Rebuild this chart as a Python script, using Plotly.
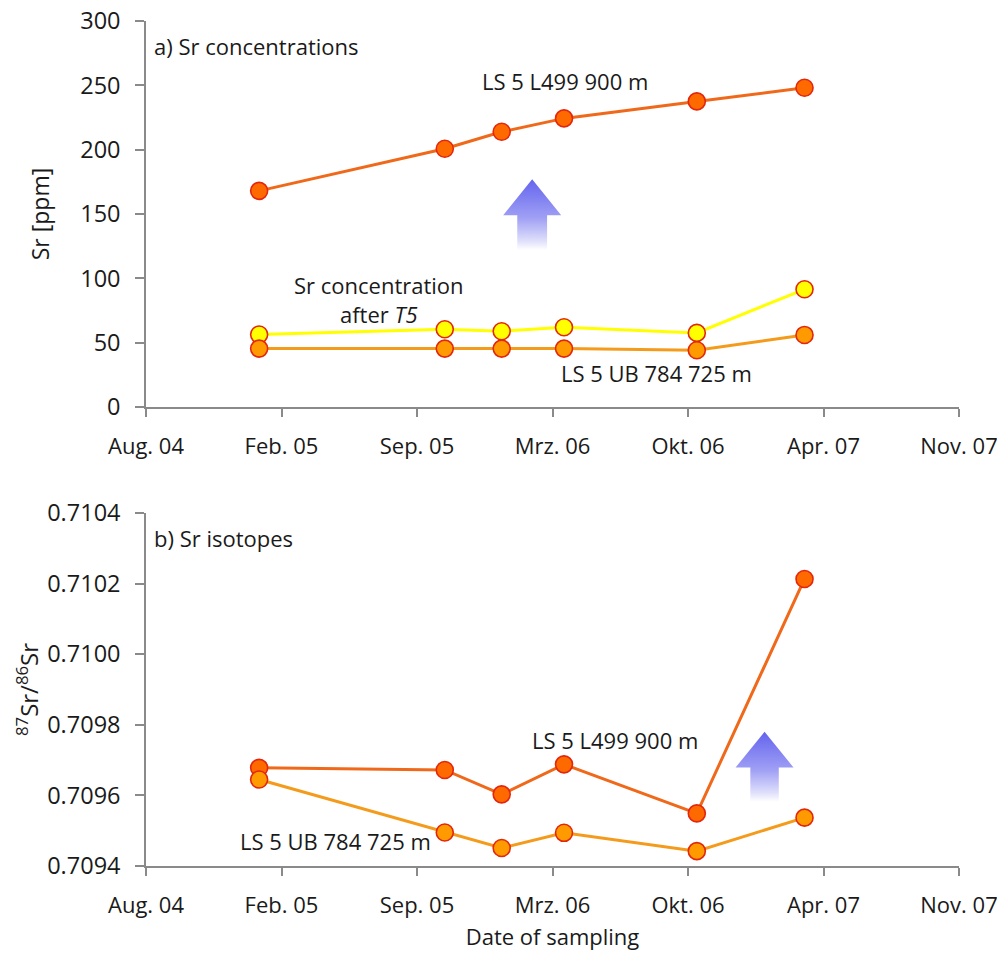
import pandas as pd
import plotly.graph_objects as go
from plotly.subplots import make_subplots

# Sampling dates (shared by both panels)
dates = pd.to_datetime([
    "2005-01-15", "2005-10-16", "2006-01-08",
    "2006-04-10", "2006-10-23", "2007-03-31",
])

# a) Sr concentrations [ppm]
sr_l499 = [168, 200.7, 213.9, 224.3, 237.5, 248.1]
sr_t5 = [56.3, 60.4, 58.9, 62.0, 57.6, 91.5]
sr_ub784 = [45.4, 45.4, 45.4, 45.4, 44.1, 56.0]

# b) 87Sr/86Sr ratios
iso_l499 = [0.709678, 0.709672, 0.709603, 0.709688, 0.709549, 0.710213]
iso_ub784 = [0.709645, 0.709495, 0.709451, 0.709494, 0.709442, 0.709537]

# Date axis: German month abbreviations, one label every 200 days
axis_start = pd.Timestamp("2004-08-01")
tick_step_days = 200
tick_labels = ["Aug. 04", "Feb. 05", "Sep. 05", "Mrz. 06", "Okt. 06", "Apr. 07", "Nov. 07"]
tick_dates = [axis_start + pd.Timedelta(days=tick_step_days * i) for i in range(len(tick_labels))]

FONT = "Open Sans"
TXT = "#1a1a1a"
AXIS = "#8a8a8a"
EDGE = "#e3260e"

C_L499_LINE, C_L499_FILL = "#f0691a", "#ff6a00"
C_UB_LINE, C_UB_FILL = "#f59b1c", "#ff9a00"
C_T5_LINE, C_T5_FILL = "#ffff00", "#ffff00"

fig = make_subplots(rows=2, cols=1, vertical_spacing=0.1254, row_heights=[0.5468, 0.4532])
fig.update_yaxes(domain=[0.5432, 1.0], row=1, col=1)
fig.update_yaxes(domain=[0.0, 0.4178], row=2, col=1)


def series(x, y, line_color, fill_color, row):
    fig.add_trace(go.Scatter(
        x=x, y=y, mode="lines+markers",
        line=dict(color=line_color, width=3),
        marker=dict(size=17, color=fill_color, line=dict(color=EDGE, width=1.6)),
        showlegend=False, hoverinfo="skip",
    ), row=row, col=1)


series(dates, sr_l499, C_L499_LINE, C_L499_FILL, 1)
series(dates, sr_t5, C_T5_LINE, C_T5_FILL, 1)
series(dates, sr_ub784, C_UB_LINE, C_UB_FILL, 1)

series(dates, iso_l499, C_L499_LINE, C_L499_FILL, 2)
series(dates, iso_ub784, C_UB_LINE, C_UB_FILL, 2)


def up_arrow(center, y_bottom, y_neck, y_tip, head_half_days, shaft_half_days, row):
    """Block arrow pointing upwards, fading to white at its foot."""
    c = pd.Timestamp(center)
    d = lambda n: c + pd.Timedelta(days=n)
    xs = [d(-shaft_half_days), d(-shaft_half_days), d(-head_half_days), c,
          d(head_half_days), d(shaft_half_days), d(shaft_half_days), d(-shaft_half_days)]
    ys = [y_bottom, y_neck, y_neck, y_tip, y_neck, y_neck, y_bottom, y_bottom]
    fig.add_trace(go.Scatter(
        x=xs, y=ys, mode="lines", fill="toself",
        line=dict(width=0, color="rgba(0,0,0,0)"),
        fillgradient=dict(type="vertical", colorscale=[
            [0.0, "rgba(255,255,255,1)"],
            [0.12, "rgba(225,225,251,1)"],
            [0.45, "rgba(160,160,245,1)"],
            [1.0, "rgba(100,100,238,1)"],
        ]),
        showlegend=False, hoverinfo="skip",
    ), row=row, col=1)


up_arrow("2006-02-22", 121.9, 149.1, 177.1, 42.8, 22.0, 1)
up_arrow("2007-01-31", 0.709582, 0.709679, 0.709780, 42.8, 21.0, 2)

xaxis_common = dict(
    type="date",
    range=[tick_dates[0], tick_dates[-1]],
    tickmode="array", tickvals=tick_dates, ticktext=tick_labels,
    showgrid=False, zeroline=False,
    showline=True, linecolor=AXIS, linewidth=1.5,
    ticks="outside", ticklen=8, tickwidth=1.5, tickcolor=AXIS,
    tickfont=dict(family=FONT, size=22, color=TXT),
    ticklabelstandoff=11,
    ticklabeloverflow="allow",
)
fig.update_xaxes(**xaxis_common, row=1, col=1)
fig.update_xaxes(**xaxis_common, row=2, col=1,
                 title=dict(text="Date of sampling", font=dict(family=FONT, size=22, color=TXT),
                            standoff=11))

yaxis_common = dict(
    showgrid=False, zeroline=False,
    showline=True, linecolor=AXIS, linewidth=1.5,
    ticks="outside", ticklen=9, tickwidth=1.5, tickcolor=AXIS,
    tickfont=dict(family=FONT, size=23.5, color=TXT),
    ticklabelstandoff=10,
)
fig.update_yaxes(**yaxis_common, row=1, col=1, range=[0, 300], dtick=50,
                 title=dict(text="Sr [ppm]", font=dict(family=FONT, size=23, color=TXT), standoff=24))
fig.update_yaxes(**yaxis_common, row=2, col=1, range=[0.7094, 0.7104], dtick=0.0002,
                 tickformat=".4f",
                 title=dict(text="<sup>87</sup>Sr/<sup>86</sup>Sr",
                            font=dict(family=FONT, size=24, color=TXT), standoff=2))

ann_font = dict(family=FONT, size=22, color=TXT)
annotations = [
    dict(text="a) Sr concentrations", xref="x domain", yref="y domain", x=0.007, y=0.935,
         xanchor="left", yanchor="middle"),
    dict(text="LS 5 L499 900 m", xref="x", yref="y", x="2006-04-11", y=253.3,
         xanchor="center", yanchor="middle"),
    dict(text="Sr concentration<br>after <i>T5</i>", xref="x", yref="y", x="2005-07-11", y=83.8,
         xanchor="center", yanchor="middle"),
    dict(text="LS 5 UB 784 725 m", xref="x", yref="y", x="2006-08-24", y=26.2,
         xanchor="center", yanchor="middle"),
    dict(text="b) Sr isotopes", xref="x2 domain", yref="y2 domain", x=0.007, y=0.929,
         xanchor="left", yanchor="middle"),
    dict(text="LS 5 L499 900 m", xref="x2", yref="y2", x="2006-06-24", y=0.709757,
         xanchor="center", yanchor="middle"),
    dict(text="LS 5 UB 784 725 m", xref="x2", yref="y2", x="2005-05-08", y=0.709470,
         xanchor="center", yanchor="middle"),
]
for a in annotations:
    fig.add_annotation(showarrow=False, font=ann_font, **a)

fig.update_layout(
    width=997, height=954,
    margin=dict(l=146, r=38, t=21, b=88, autoexpand=False),
    paper_bgcolor="white", plot_bgcolor="white",
    font=dict(family=FONT, color=TXT),
)

fig.write_html("out.html")
